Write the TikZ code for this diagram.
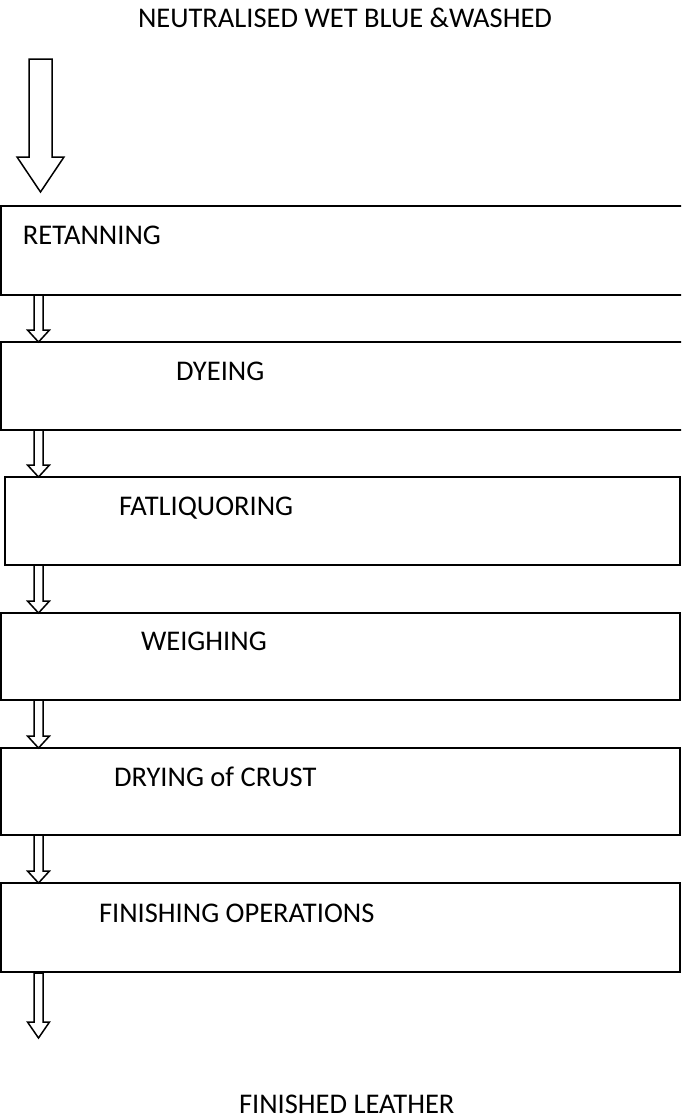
\documentclass[tikz,border=0pt]{standalone}
\usepackage{fontspec}
\setmainfont{Carlito}
\usetikzlibrary{calc}
\tikzset{
  box/.style={draw=black, line width=2pt, fill=none, rectangle, inner sep=0pt, outer sep=0pt, anchor=north west},
  lbl/.style={inner sep=0pt, outer sep=0pt, anchor=base west, font=\fontsize{28.5}{34}\selectfont},
  hollow/.style={draw=black, line width=1.5pt, line join=miter, fill=white},
}
\newcommand{\blockarrow}[5]{%
  \draw[hollow] ($(#1)+(-#3,0)$) -- ($(#2)+(-#3,-#5)$) -- ($(#2)+(-#4,-#5)$) -- (#2)
    -- ($(#2)+(#4,-#5)$) -- ($(#2)+(#3,-#5)$) -- ($(#1)+(#3,0)$) -- cycle;}
\begin{document}
\begin{tikzpicture}[x=1pt,y=-1pt]
\clip (0,0) rectangle (681,1119);
\fill[white] (0,0) rectangle (681,1119);

\node[lbl] (start) at (138,27) {NEUTRALISED WET BLUE \&WASHED};

\node[box, minimum width=700pt, minimum height=89pt] (b1) at (1,206) {};
\node[box, minimum width=700pt, minimum height=88pt] (b2) at (1,342) {};
\node[box, minimum width=675pt, minimum height=88pt] (b3) at (5,477) {};
\node[box, minimum width=679pt, minimum height=87pt] (b4) at (1,613) {};
\node[box, minimum width=679pt, minimum height=87pt] (b5) at (1,748) {};
\node[box, minimum width=679pt, minimum height=89pt] (b6) at (1,883) {};

\node[lbl] (t1) at (23,244) {RETANNING};
\node[lbl] (t2) at (176,380) {DYEING};
\node[lbl] (t3) at (119,515) {FATLIQUORING};
\node[lbl] (t4) at (141,650) {WEIGHING};
\node[lbl] (t5) at (114,786) {DRYING of CRUST};
\node[lbl] (t6) at (99,922) {FINISHING OPERATIONS};

\node[lbl] (end) at (239,1113) {FINISHED LEATHER};

% top arrow
\coordinate (a0s) at (40.5,59);
\coordinate (a0e) at (40.5,192);
\blockarrow{a0s}{a0e}{11.5}{23.5}{35}

% small arrows between boxes
\coordinate (a1s) at ($(b1.south west)+(37.5,0)$);
\coordinate (a1e) at (a1s |- b2.north);
\blockarrow{a1s}{a1e}{4.5}{11}{12}
\coordinate (a2s) at ($(b2.south west)+(37.5,0)$);
\coordinate (a2e) at (a2s |- b3.north);
\blockarrow{a2s}{a2e}{4.5}{11}{12}
\coordinate (a3s) at (a2s |- b3.south);
\coordinate (a3e) at (a3s |- b4.north);
\blockarrow{a3s}{a3e}{4.5}{11}{12}
\coordinate (a4s) at ($(b4.south west)+(37.5,0)$);
\coordinate (a4e) at (a4s |- b5.north);
\blockarrow{a4s}{a4e}{4.5}{11}{12}
\coordinate (a5s) at ($(b5.south west)+(37.5,0)$);
\coordinate (a5e) at (a5s |- b6.north);
\blockarrow{a5s}{a5e}{4.5}{11}{12}
\coordinate (a6s) at ($(b6.south west)+(37.5,1)$);
\coordinate (a6e) at (38.5,1038);
\blockarrow{a6s}{a6e}{4.5}{11}{16}
\end{tikzpicture}
\end{document}
